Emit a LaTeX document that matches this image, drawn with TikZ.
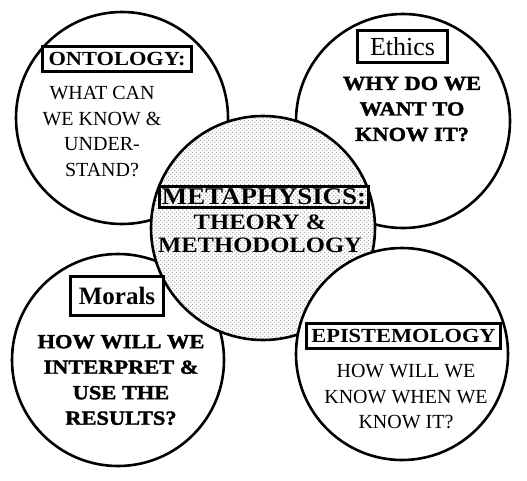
\documentclass[tikz,border=0pt]{standalone}
\usepackage{fontspec}
\setmainfont{Liberation Serif}
\newfontfamily\wfont{Liberation Serif}[FakeStretch=1.12]
\newfontfamily\hfont{Liberation Serif}[FakeStretch=1.12,FakeBold=1.6]
\usetikzlibrary{patterns.meta}
\tikzdeclarepattern{
  name=mydots,
  type=uncolored,
  bounding box={(0pt,0pt) and (4.3pt,4.3pt)},
  tile size={(4.3pt,4.3pt)},
  code={
    \fill (1.075pt,1.075pt) circle (0.55pt);
    \fill (3.225pt,3.225pt) circle (0.55pt);
  }
}
\tikzset{
  topic/.style={circle, draw, line width=2.6pt, fill=white, inner sep=0pt},
  core/.style={circle, draw, line width=2.6pt, inner sep=0pt,
    preaction={fill=white}, pattern=mydots, pattern color=black},
  labelbox/.style={draw, line width=2.6pt, inner sep=0pt, fill=white},
  plain/.style={align=center, inner sep=0pt, font=\fontsize{20}{25.5}\selectfont},
  heavy/.style={align=center, inner sep=0pt, font=\hfont\bfseries\fontsize{20}{25.5}\selectfont},
}
\begin{document}
\begin{tikzpicture}[x=1pt,y=-1pt]
\useasboundingbox (0,0) rectangle (527,480);
% outer circles (below core)
\node[topic, minimum size=212pt] (ont) at (122,118) {};
\node[topic, minimum size=214pt] (eth) at (403,121) {};
\node[topic, minimum size=212pt] (mor) at (118,360) {};
% core circle
\node[core, minimum size=224pt] (met) at (263,228) {};
% epistemology circle above core
\node[topic, minimum size=212pt] (epi) at (402,354) {};

% label boxes
\node[labelbox, minimum width=149.5pt, minimum height=25.5pt,
  font=\wfont\bfseries\fontsize{20}{24}\selectfont] (ontbox) at (117,59) {ONTOLOGY:};
\node[labelbox, minimum width=90.5pt, minimum height=32.5pt,
  font=\fontsize{26}{30}\selectfont] (ethbox) at (402.5,46.5) {Ethics};
\node[labelbox, minimum width=93.5pt, minimum height=39.5pt,
  font=\bfseries\fontsize{25}{30}\selectfont] (morbox) at (117,296) {Morals};
\node[labelbox, minimum width=194.5pt, minimum height=25.5pt,
  font=\wfont\bfseries\fontsize{20}{24}\selectfont] (epibox) at (403.5,336) {EPISTEMOLOGY};
\node[draw, line width=2.6pt, inner sep=0pt, minimum width=209.5pt, minimum height=21.5pt,
  pattern=mydots, pattern color=black, preaction={fill=white},
  font=\wfont\bfseries\fontsize{24}{28}\selectfont] (metbox) at (264,197) {METAPHYSICS:};

% body texts
\node[plain] (onttext) at (102,131.5) {WHAT CAN\\WE KNOW \&\\UNDER-\\STAND?};
\node[heavy] (ethtext) at (412,109) {WHY DO WE\\WANT TO\\KNOW IT?};
\node[heavy] (mortext) at (121,380) {HOW WILL WE\\INTERPRET \&\\USE THE\\RESULTS?};
\node[plain] (epitext) at (406,397) {HOW WILL WE\\KNOW WHEN WE\\KNOW IT?};
\node[align=center, inner sep=0pt,
  font=\wfont\bfseries\fontsize{22}{23}\selectfont] (mettext) at (260,233.5) {THEORY \&\\METHODOLOGY};
\end{tikzpicture}
\end{document}
